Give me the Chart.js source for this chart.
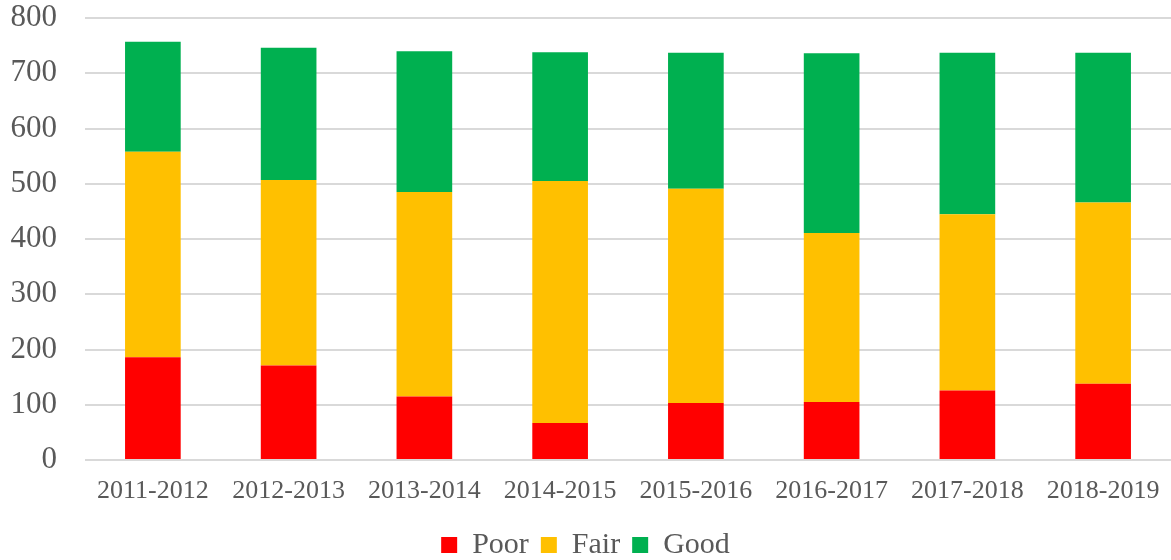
<!DOCTYPE html>
<html>
<head>
<meta charset="utf-8">
<script src="https://cdn.jsdelivr.net/npm/chart.js@4/dist/chart.umd.min.js"></script>
<style>
  html, body { margin: 0; padding: 0; background: #fff; }
  #wrap { width: 1171px; height: 560px; }
</style>
</head>
<body>
<div id="wrap"><canvas id="chart"></canvas></div>
<script>
'use strict';

// данные
const years = ['2011-2012', '2012-2013', '2013-2014', '2014-2015', '2015-2016', '2016-2017', '2017-2018', '2018-2019'];
const poorData = [186, 171, 115, 67, 103, 105, 126, 138];
const fairData = [372, 336, 370, 438, 388, 306, 319, 328];
const goodData = [199, 239, 255, 233, 246, 325, 292, 271];

const textColor = '#595959';
const serif = "'Liberation Serif', 'DejaVu Serif', serif";

const chart = new Chart(document.getElementById('chart'), {
    type: 'bar',
    data: {
        labels: years,
        datasets: [{
            label: 'Poor',
            data: poorData,
            backgroundColor: '#FF0000'
        }, {
            label: 'Fair',
            data: fairData,
            backgroundColor: '#FFC000'
        }, {
            label: 'Good',
            data: goodData,
            backgroundColor: '#00B050'
        }]
    },
    options: {
        responsive: true,
        maintainAspectRatio: false,
        animation: false,
        datasets: {
            bar: {
                categoryPercentage: 0.82,
                barPercentage: 0.5
            }
        },
        layout: {
            padding: { top: 0, right: 0, left: 0, bottom: -10 }
        },
        plugins: {
            tooltip: { enabled: false },
            legend: {
                position: 'bottom',
                labels: {
                    color: textColor,
                    font: { family: serif, size: 30 },
                    boxWidth: 16,
                    boxHeight: 16,
                    padding: 12
                }
            }
        },
        scales: {
            x: {
                stacked: true,
                grid: { display: false },
                border: { display: false },
                ticks: {
                    color: textColor,
                    font: { family: serif, size: 26 },
                    padding: 8,
                    maxRotation: 0
                },
                afterFit: (scale) => { scale.height = 58; }
            },
            y: {
                stacked: true,
                min: 0,
                max: 800,
                border: { display: false },
                grid: {
                    color: '#d9d9d9',
                    lineWidth: 2,
                    drawTicks: false
                },
                ticks: {
                    stepSize: 100,
                    color: textColor,
                    font: { family: serif, size: 31 },
                    padding: 28
                },
                afterFit: (scale) => {
                    scale.width = 85;
                    scale.paddingTop = 18;
                }
            }
        }
    }
});
</script>
</body>
</html>
